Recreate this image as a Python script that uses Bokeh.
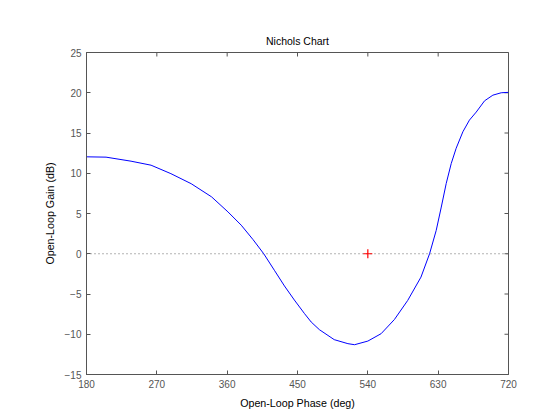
import math
from bokeh.plotting import figure
from bokeh.models import FixedTicker, Range1d
from bokeh.embed import file_html
from bokeh.resources import INLINE

# Open-loop response
phase_deg = [180, 205, 237, 262.6, 288, 314, 340, 361, 378, 393, 406.8, 420.4,
             433.3, 446, 459, 467.5, 478, 497, 514.5, 523, 540, 557, 574, 591,
             608, 619, 627.5, 634, 640.3, 646.7, 653, 661.6, 670, 678.7, 689.4,
             700, 710.7, 720]
gain_db = [12.04, 12.0, 11.5, 11.0, 9.95, 8.7, 7.07, 5.2, 3.55, 1.77, 0.0, -2.05,
           -4.0, -5.75, -7.44, -8.48, -9.43, -10.67, -11.17, -11.3, -10.85,
           -9.93, -8.17, -5.8, -2.9, 0.0, 2.9, 5.8, 8.73, 11.2, 13.1, 15.15,
           16.6, 17.6, 19.0, 19.7, 20.0, 20.05]

critical_phase = [540]
critical_gain = [0]

x_ticks = [180, 270, 360, 450, 540, 630, 720]
y_ticks = [-15, -10, -5, 0, 5, 10, 15, 20, 25]

FONT = "Liberation Sans"
AX = "#555555"

p = figure(width=552, height=412, output_backend="svg", toolbar_location=None,
           x_range=Range1d(x_ticks[0], x_ticks[-1]),
           y_range=Range1d(y_ticks[0], y_ticks[-1]),
           title="Nichols Chart",
           min_border_left=86, min_border_right=44, min_border_top=52,
           min_border_bottom=38, x_axis_label="Open-Loop Phase (deg)",
           y_axis_label="Open-Loop Gain (dB)")
p.background_fill_color = "white"
p.border_fill_color = "white"
p.outline_line_color = AX
p.outline_line_width = 1
p.xgrid.visible = False
p.ygrid.visible = False

p.title.align = "center"
p.title.text_font = FONT
p.title.text_font_size = "10.5px"
p.title.text_font_style = "normal"
p.title.text_color = "black"
p.title.standoff = 12

for ax, ticks in ((p.xaxis[0], x_ticks), (p.yaxis[0], y_ticks)):
    ax.ticker = FixedTicker(ticks=ticks)
    ax.minor_tick_line_color = None
    ax.major_tick_in = 4
    ax.major_tick_out = 0
    ax.axis_line_color = AX
    ax.major_tick_line_color = AX
    ax.major_label_text_font = FONT
    ax.major_label_text_font_size = "10px"
    ax.major_label_text_color = AX
    ax.axis_label_text_font = FONT
    ax.axis_label_text_font_size = "10.7px"
    ax.axis_label_text_font_style = "normal"
    ax.axis_label_text_color = "black"
p.xaxis[0].major_label_standoff = 5
p.yaxis[0].major_label_standoff = 5
p.xaxis[0].axis_label_standoff = 6
p.yaxis[0].axis_label_standoff = 6

# mirrored tick marks on the top and right edges (clipped to the frame)
p.scatter(x=x_ticks, y=[y_ticks[-1]] * len(x_ticks), marker="dash", size=8,
          angle=math.pi / 2, line_color=AX, line_width=1)
p.scatter(x=[x_ticks[-1]] * len(y_ticks), y=y_ticks, marker="dash", size=8,
          line_color=AX, line_width=1)

# 0 dB dotted reference line
p.line(x=[x_ticks[0], x_ticks[-1]], y=[0, 0], line_color="#666666",
       line_dash="1 3", line_width=1)

p.line(x=phase_deg, y=gain_db, line_color="blue", line_width=1)

p.scatter(x=critical_phase, y=critical_gain, marker="cross", size=9,
          line_color="red", line_width=1.2)

open("out.html", "w").write(file_html(p, INLINE))
